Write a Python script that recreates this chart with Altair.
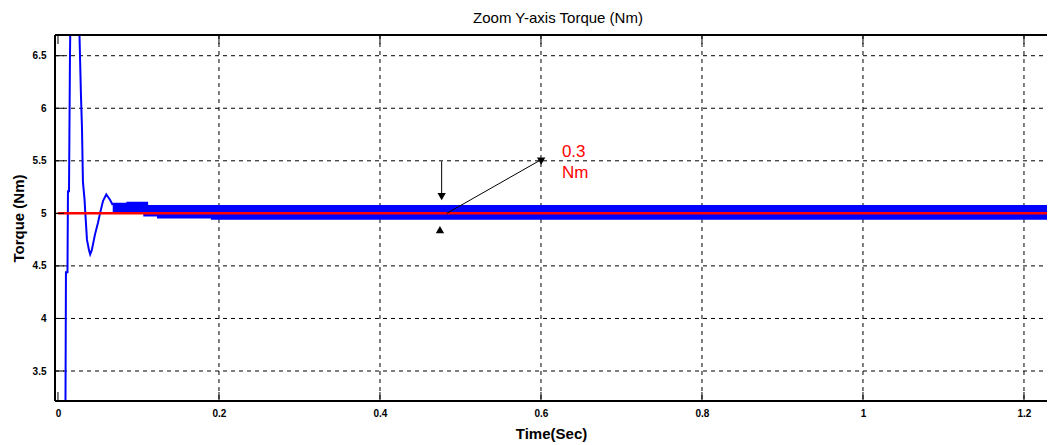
import altair as alt
import pandas as pd

# ---- data ----
# transient part of the torque response (Nm) vs time (s)
t_trans = [0.0090, 0.0099, 0.0118, 0.0124, 0.0137, 0.0149, 0.0160, 0.0210, 0.0267,
           0.0286, 0.0298, 0.0310, 0.0330, 0.0340, 0.0360, 0.0385, 0.0400, 0.0420,
           0.0460, 0.0497, 0.0522, 0.0560, 0.0600, 0.0646, 0.0680]
v_trans = [2.50, 4.44, 4.44, 5.21, 5.21, 6.50, 7.20, 8.00, 6.70,
           6.11, 5.82, 5.30, 5.13, 5.00, 4.75, 4.65, 4.61, 4.65,
           4.80, 4.91, 5.00, 5.12, 5.18, 5.13, 5.08]

# steady-state ripple band envelope
t_band = [0.068, 0.085, 0.106, 0.112, 0.123, 0.190, 1.240]
band_hi = [5.10, 5.11, 5.11, 5.08, 5.08, 5.08, 5.08]
band_lo = [5.00, 5.00, 4.97, 4.97, 4.95, 4.94, 4.93]

# reference torque
t_ref = [0.0, 1.24]
v_ref = [5.0, 5.0]

x_ticks = [0, 0.2, 0.4, 0.6, 0.8, 1.0, 1.2]
y_ticks = [3.5, 4.0, 4.5, 5.0, 5.5, 6.0, 6.5]
x_grid = [0.2, 0.4, 0.6, 0.8, 1.0, 1.2]
y_grid = [3.5, 4.0, 4.5, 5.0, 5.5, 6.0, 6.5]

# annotation
shaft_x = [0.4766, 0.483]
shaft_x2 = [0.4766, 0.600]
shaft_y = [5.495, 5.00]
shaft_y2 = [5.14, 5.51]
head_x = [0.4766, 0.4745, 0.6015]
head_y = [5.16, 4.845, 5.515]
head_shape = ["triangle-down", "triangle-up", "triangle-up"]
head_angle = [0, 0, 60]
label_x = [0.626, 0.626]
label_y = [5.54, 5.34]
label_text = ["0.3", "Nm"]

W, H = 992, 366
X_DOM = [-0.0037, -0.0037 + W / 805.0]
Y_DOM = [3.2146, 6.697]

xs = alt.Scale(domain=X_DOM, nice=False, zero=False)
ys = alt.Scale(domain=Y_DOM, nice=False, zero=False)

trans = pd.DataFrame({"t": t_trans, "v": v_trans})
band = pd.DataFrame({"t": t_band, "hi": band_hi, "lo": band_lo})
ref = pd.DataFrame({"t": t_ref, "v": v_ref})
xg = pd.DataFrame({"t": x_grid})
yg = pd.DataFrame({"v": y_grid})
xt = pd.DataFrame({"t": x_ticks})
yt = pd.DataFrame({"v": y_ticks})
shafts = pd.DataFrame({"x": shaft_x, "x2": shaft_x2, "y": shaft_y, "y2": shaft_y2})
heads = pd.DataFrame({"x": head_x, "y": head_y, "shape": head_shape, "angle": head_angle})
labels = pd.DataFrame({"x": label_x, "y": label_y, "text": label_text})

x_axis = alt.Axis(values=x_ticks, title="Time(Sec)", grid=False, ticks=False, domain=False,
                  labelFontSize=10, labelFontWeight="bold", labelFont="Liberation Sans",
                  labelColor="black", labelPadding=7, format="~g",
                  titleFontSize=15, titleFontWeight="bold", titleFont="Liberation Sans",
                  titleColor="black", titlePadding=8)
y_axis = alt.Axis(values=y_ticks, title="Torque (Nm)", grid=False, ticks=False, domain=False,
                  labelFontSize=10, labelFontWeight="bold", labelFont="Liberation Sans",
                  labelColor="black", labelPadding=9, format="~g",
                  titleFontSize=15, titleFontWeight="bold", titleFont="Liberation Sans",
                  titleColor="black", titlePadding=6)

base_axes = alt.Chart(xt).mark_rule(opacity=0).encode(
    x=alt.X("t:Q", scale=xs, axis=x_axis),
    y=alt.value(0), y2=alt.value(1),
)
y_axes = alt.Chart(yt).mark_rule(opacity=0).encode(
    y=alt.Y("v:Q", scale=ys, axis=y_axis),
    x=alt.value(0), x2=alt.value(1),
)

grid_x = alt.Chart(xg).mark_rule(color="black", strokeWidth=1, strokeDash=[4, 4]).encode(
    x=alt.X("t:Q", scale=xs), y=alt.value(0), y2=alt.value(H))
grid_y = alt.Chart(yg).mark_rule(color="black", strokeWidth=1, strokeDash=[4, 4]).encode(
    y=alt.Y("v:Q", scale=ys), x=alt.value(0), x2=alt.value(W))

tick_l = alt.Chart(yt).mark_rule(color="black", strokeWidth=1).encode(
    y=alt.Y("v:Q", scale=ys), x=alt.value(0), x2=alt.value(9))
tick_b = alt.Chart(xt).mark_rule(color="black", strokeWidth=1).encode(
    x=alt.X("t:Q", scale=xs), y=alt.value(H), y2=alt.value(H - 9))
tick_t = alt.Chart(xt).mark_rule(color="black", strokeWidth=1).encode(
    x=alt.X("t:Q", scale=xs), y=alt.value(0), y2=alt.value(9))

band_area = alt.Chart(band).mark_area(color="#0000ff", interpolate="step-after", clip=True).encode(
    x=alt.X("t:Q", scale=xs), y=alt.Y("hi:Q", scale=ys), y2="lo:Q")
trans_line = alt.Chart(trans).mark_line(color="#0000ff", strokeWidth=2, clip=True).encode(
    x=alt.X("t:Q", scale=xs), y=alt.Y("v:Q", scale=ys))
ref_line = alt.Chart(ref).mark_line(color="#ff0000", strokeWidth=2.5, clip=True).encode(
    x=alt.X("t:Q", scale=xs), y=alt.Y("v:Q", scale=ys))

arrow_shafts = alt.Chart(shafts).mark_rule(color="black", strokeWidth=1).encode(
    x=alt.X("x:Q", scale=xs), x2="x2:Q", y=alt.Y("y:Q", scale=ys), y2="y2:Q")
arrow_heads = alt.Chart(heads).mark_point(filled=True, color="black", size=70, opacity=1).encode(
    x=alt.X("x:Q", scale=xs), y=alt.Y("y:Q", scale=ys),
    shape=alt.Shape("shape:N", scale=None, legend=None),
    angle=alt.Angle("angle:Q", scale=None))
ann_text = alt.Chart(labels).mark_text(color="#ff0000", fontSize=17, font="Liberation Sans",
                                      align="left", baseline="alphabetic").encode(
    x=alt.X("x:Q", scale=xs), y=alt.Y("y:Q", scale=ys), text="text:N")

border_top = alt.Chart(xt).mark_rule(color="black", strokeWidth=1.5).encode(
    x=alt.value(0), x2=alt.value(W), y=alt.value(0))
border_left = alt.Chart(xt).mark_rule(color="black", strokeWidth=1.5).encode(
    x=alt.value(0), y=alt.value(0), y2=alt.value(H))
border_bottom = alt.Chart(xt).mark_rule(color="black", strokeWidth=1.5).encode(
    x=alt.value(0), x2=alt.value(W), y=alt.value(H))

chart = alt.layer(
    base_axes, y_axes, grid_x, grid_y, band_area, trans_line, ref_line,
    tick_l, tick_b, tick_t, arrow_shafts, arrow_heads, ann_text,
    border_top, border_left, border_bottom,
).properties(
    width=W, height=H,
    title=alt.TitleParams("Zoom Y-axis Torque (Nm)", fontSize=15, fontWeight="normal",
                          font="Liberation Sans", color="black", offset=8, dx=7),
    autosize=alt.AutoSizeParams(type="none"),
    padding={"left": 47, "top": 27, "right": 0, "bottom": 44},
).configure_view(stroke=None).configure(background="white")

chart.save("out.html", embed_options={"renderer": "svg", "actions": False})
